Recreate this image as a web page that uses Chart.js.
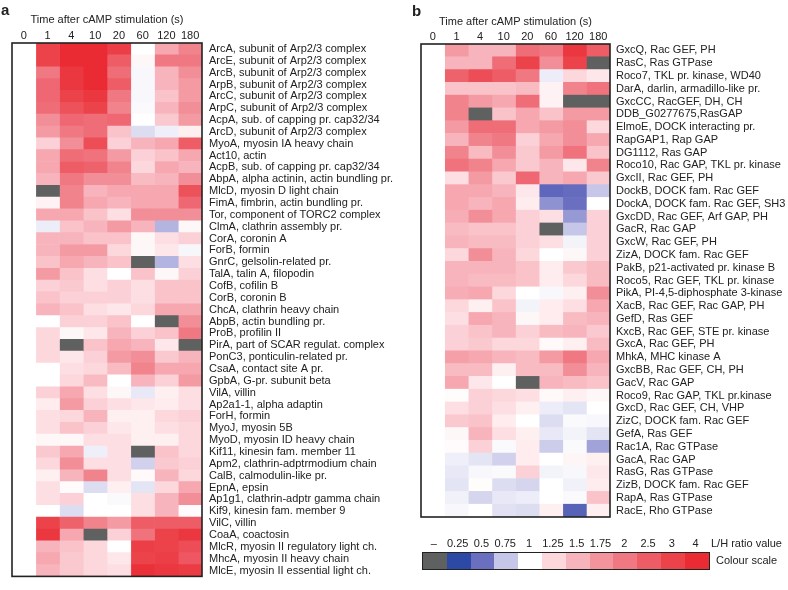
<!DOCTYPE html>
<html>
<head>
<meta charset="utf-8">
<script src="https://cdn.jsdelivr.net/npm/chart.js@4.4.0/dist/chart.umd.min.js"></script>
<style>
  body { margin: 0; background: #fff; font-family: Arial, "Liberation Sans", sans-serif; color: #222; }
  #wrap { position: relative; width: 788px; height: 590px; overflow: hidden; }
  .tag { position: absolute; font-weight: bold; font-size: 15px; line-height: 15px; }
  #legLabels, #legBar { position: absolute; left: 422px; display: flex; }
  #legLabels { top: 537px; font-size: 11px; line-height: 13px; }
  #legLabels span { display: block; width: 23.8px; text-align: center; }
  #legBar { top: 552px; height: 16px; border: 1.5px solid #222; }
  #legBar div { width: 23.8px; height: 16px; }
  .legText { position: absolute; font-size: 11px; line-height: 13px; }
</style>
</head>
<body>
<div id="wrap">
  <canvas id="chartA" width="400" height="590" style="position:absolute;left:0;top:0"></canvas>
  <canvas id="chartB" width="388" height="590" style="position:absolute;left:400px;top:0"></canvas>
  <div class="tag" style="left:1px;top:2px">a</div>
  <div class="tag" style="left:412px;top:3px">b</div>
  <div id="legLabels"></div>
  <div id="legBar"></div>
  <div class="legText" style="left:711px;top:537px">L/H ratio value</div>
  <div class="legText" style="left:716px;top:554px">Colour scale</div>
</div>
<script>
// time points (columns)
const timeLabels = ["0", "1", "4", "10", "20", "60", "120", "180"];

// panel a rows
const rowsA = [
  "ArcA, subunit of Arp2/3 complex", "ArcE, subunit of Arp2/3 complex",
  "ArcB, subunit of Arp2/3 complex", "ArpB, subunit of Arp2/3 complex",
  "ArcC, subunit of Arp2/3 complex", "ArpC, subunit of Arp2/3 complex",
  "AcpA, sub. of capping pr. cap32/34", "ArcD, subunit of Arp2/3 complex",
  "MyoA, myosin IA heavy chain", "Act10, actin",
  "AcpB, sub. of capping pr. cap32/34", "AbpA, alpha actinin, actin bundling pr.",
  "MlcD, myosin D light chain", "FimA, fimbrin, actin bundling pr.",
  "Tor, component of TORC2 complex", "ClmA, clathrin assembly pr.",
  "CorA, coronin A", "ForB, formin", "GnrC, gelsolin-related pr.",
  "TalA, talin A, filopodin", "CofB, cofilin B", "CorB, coronin B",
  "ChcA, clathrin heavy chain", "AbpB, actin bundling pr.", "ProB, profilin II",
  "PirA, part of SCAR regulat. complex", "PonC3, ponticulin-related pr.",
  "CsaA, contact site A pr.", "GpbA, G-pr. subunit beta", "VilA, villin",
  "Ap2a1-1, alpha adaptin", "ForH, formin", "MyoJ, myosin 5B",
  "MyoD, myosin ID heavy chain", "Kif11, kinesin fam. member 11",
  "Apm2, clathrin-adptrmodium chain", "CalB, calmodulin-like pr.", "EpnA, epsin",
  "Ap1g1, clathrin-adptr gamma chain", "Kif9, kinesin fam. member 9",
  "VilC, villin", "CoaA, coactosin", "MlcR, myosin II regulatory light ch.",
  "MhcA, myosin II heavy chain", "MlcE, myosin II essential light ch."
];

// L/H ratio per row, one value per time point (null = no value)
const valuesA = [
  [1, 3.0, 4.0, 4.0, 3.2, 1.0, 1.6, 1.9],
  [1, 3.0, 4.0, 4.0, 2.5, 1.05, 2.0, 2.0],
  [1, 2.0, 3.5, 4.0, 2.2, 0.97, 1.5, 1.8],
  [1, 2.3, 3.5, 4.0, 2.5, 0.97, 1.5, 1.7],
  [1, 2.3, 3.0, 3.5, 2.0, 0.97, 1.4, 1.7],
  [1, 2.2, 2.7, 3.0, 1.9, 0.98, 1.5, 1.8],
  [1, 1.8, 2.3, 2.2, 2.3, 1.0, 1.35, 1.7],
  [1, 1.7, 2.0, 2.2, 1.4, 0.85, 0.93, 1.1],
  [1, 1.3, 1.8, 2.8, 1.3, 1.5, 1.6, 2.5],
  [1, 1.6, 2.2, 2.1, 1.7, 1.3, 1.4, 1.6],
  [1, 1.6, 2.5, 2.4, 1.9, 1.25, 1.6, 1.5],
  [1, 1.5, 2.0, 1.8, 1.8, 1.45, 1.5, 1.8],
  [1, null, 1.9, 1.5, 1.6, 1.6, 1.6, 2.7],
  [1, 1.08, 1.9, 1.6, 1.5, 1.6, 1.6, 2.3],
  [1, 1.6, 1.6, 1.4, 1.2, 1.8, 1.8, 1.8],
  [1, 0.92, 1.4, 1.5, 1.7, 1.5, 0.7, 1.05],
  [1, 1.5, 1.5, 1.4, 1.4, 1.05, 1.2, 1.3],
  [1, 1.5, 1.7, 1.7, 1.25, 1.05, 1.15, 0.96],
  [1, 1.4, 1.6, 1.5, 1.4, null, 0.7, 1.2],
  [1, 1.7, 1.4, 1.2, 1.0, 1.4, 1.05, 1.3],
  [1, 1.3, 1.35, 1.2, 1.3, 1.2, 1.4, 1.4],
  [1, 1.4, 1.3, 1.3, 1.3, 1.2, 1.4, 1.4],
  [1, 1.5, 1.4, 1.2, 1.15, 1.25, 1.6, 1.6],
  [1, 1.0, 1.3, 1.3, 1.4, 1.0, null, 1.8],
  [1, 1.25, 1.05, 1.15, 1.5, 1.3, 1.4, 2.0],
  [1, 1.25, null, 1.4, 1.6, 1.5, 1.15, null],
  [1, 1.25, 1.15, 1.3, 1.7, 1.8, 1.35, 1.5],
  [1, 1.0, 1.2, 1.25, 1.45, 1.9, 1.6, 1.6],
  [1, 1.0, 1.25, 1.45, 1.0, 1.5, 1.3, 1.7],
  [1, 1.3, 1.6, 1.2, 1.05, 0.9, 1.1, 1.2],
  [1, 1.12, 1.7, 1.3, 1.2, 1.15, 1.12, 1.2],
  [1, 1.2, 1.25, 1.5, 1.1, 1.1, 1.25, 1.3],
  [1, 1.2, 1.4, 1.3, 1.15, 1.1, 1.2, 1.25],
  [1, 1.05, 1.05, 1.2, 1.2, 1.1, 1.1, 1.25],
  [1, 1.35, 1.6, 0.93, 1.2, null, 1.4, 1.25],
  [1, 1.25, 1.8, 1.2, 1.2, 0.8, 1.35, 1.3],
  [1, 1.1, 1.5, 1.9, 1.2, 1.04, 1.5, 1.25],
  [1, 1.2, 1.03, 0.85, 1.1, 0.88, 1.25, 1.6],
  [1, 1.2, 1.3, 1.0, 0.98, 1.2, 1.5, 1.8],
  [1, 1.0, 0.85, 1.0, 1.0, 1.2, 1.5, 1.03],
  [1, 3.0, 2.4, 1.9, 1.7, 2.5, 2.5, 2.5],
  [1, 3.5, 1.6, null, 1.3, 2.1, 3.0, 3.5],
  [1, 1.5, 1.4, 1.25, 1.0, 3.2, 3.0, 2.8],
  [1, 1.6, 1.35, 1.25, 1.15, 3.0, 3.2, 2.6],
  [1, 1.5, 1.35, 1.25, 1.2, 3.8, 3.5, 3.3]
];

// panel b rows
const rowsB = [
  "GxcQ, Rac GEF, PH", "RasC, Ras GTPase", "Roco7, TKL pr. kinase, WD40",
  "DarA, darlin, armadillo-like pr.", "GxcCC, RacGEF, DH, CH", "DDB_G0277675,RasGAP",
  "ElmoE, DOCK interacting pr.", "RapGAP1, Rap GAP", "DG1112, Ras GAP",
  "Roco10, Rac GAP, TKL pr. kinase", "GxcII, Rac GEF, PH", "DockB, DOCK fam. Rac GEF",
  "DockA, DOCK fam. Rac GEF, SH3", "GxcDD, Rac GEF, Arf GAP, PH", "GacR, Rac GAP",
  "GxcW, Rac GEF, PH", "ZizA, DOCK fam. Rac GEF", "PakB, p21-activated pr. kinase B",
  "Roco5, Rac GEF, TKL pr. kinase", "PikA, PI-4,5-diphosphate 3-kinase",
  "XacB, Rac GEF, Rac GAP, PH", "GefD, Ras GEF", "KxcB, Rac GEF, STE pr. kinase",
  "GxcA, Rac GEF, PH", "MhkA, MHC kinase A", "GxcBB, Rac GEF, CH, PH", "GacV, Rac GAP",
  "Roco9, Rac GAP, TKL pr.kinase", "GxcD, Rac GEF, CH, VHP", "ZizC, DOCK fam. Rac GEF",
  "GefA, Ras GEF", "Rac1A, Rac GTPase", "GacA, Rac GAP", "RasG, Ras GTPase",
  "ZizB, DOCK fam. Rac GEF", "RapA, Ras GTPase", "RacE, Rho GTPase"
];

const valuesB = [
  [1, 1.7, 1.5, 1.5, 2.2, 2.0, 3.5, 2.5],
  [1, 1.5, 1.5, 2.2, 3.0, 1.8, 3.0, null],
  [1, 2.4, 2.8, 2.5, 2.0, 0.92, 1.25, 1.15],
  [1, 1.4, 1.4, 1.4, 1.45, 1.08, 1.9, 2.1],
  [1, 1.9, 1.7, 1.6, 2.2, 1.08, null, null],
  [1, 1.9, null, 1.4, 1.6, 1.4, 1.7, 1.7],
  [1, 1.7, 2.2, 2.2, 1.6, 1.7, 1.8, 1.25],
  [1, 1.5, 1.9, 2.0, 1.3, 1.6, 1.8, 1.6],
  [1, 1.9, 1.45, 1.8, 1.35, 1.7, 2.1, 1.4],
  [1, 2.1, 1.9, 1.6, 1.35, 1.5, 1.15, 1.9],
  [1, 1.2, 1.7, 1.35, 2.3, 1.5, 1.6, 1.35],
  [1, 1.6, 1.6, 1.5, 1.15, 0.45, 0.48, 0.75],
  [1, 1.6, 1.5, 1.6, 1.12, 0.6, 0.5, 1.0],
  [1, 1.55, 1.8, 1.6, 1.3, 1.2, 0.62, 1.3],
  [1, 1.45, 1.4, 1.4, 1.3, null, 0.75, 1.3],
  [1, 1.5, 1.45, 1.45, 1.3, 1.2, 0.95, 1.3],
  [1, 1.25, 1.8, 1.5, 1.25, 1.0, 1.05, 1.3],
  [1, 1.5, 1.5, 1.5, 1.4, 1.12, 1.35, 1.45],
  [1, 1.5, 1.45, 1.45, 1.4, 1.12, 1.25, 1.45],
  [1, 1.55, 1.6, 1.25, 1.0, 0.97, 1.1, 1.8],
  [1, 1.25, 1.1, 1.4, 0.95, 1.12, 1.2, 1.6],
  [1, 1.2, 1.6, 1.5, 1.05, 1.12, 1.45, 1.5],
  [1, 1.3, 1.4, 1.5, 1.3, 1.45, 1.5, 1.35],
  [1, 1.3, 1.35, 1.25, 1.25, 1.04, 1.1, 1.45],
  [1, 1.65, 1.6, 1.5, 1.45, 1.7, 2.0, 1.6],
  [1, 1.45, 1.45, 1.1, 1.45, 1.45, 1.8, 1.5],
  [1, 1.6, 1.15, 1.0, null, 1.5, 1.45, 1.4],
  [1, 1.02, 1.3, 1.25, 1.2, 1.04, 1.1, 1.05],
  [1, 1.2, 1.3, 1.2, 1.1, 0.92, 0.88, 1.0],
  [1, 1.35, 1.4, 1.12, 1.0, 0.85, 0.98, 0.97],
  [1, 1.05, 1.5, 1.2, 1.1, 0.9, 0.95, 0.88],
  [1, 1.03, 1.3, 0.98, 1.12, 0.78, 0.98, 0.65],
  [1, 0.93, 0.88, 0.8, 1.12, 1.0, 1.06, 1.1],
  [1, 0.9, 0.97, 0.98, 1.3, 0.95, 0.97, 1.15],
  [1, 0.88, 1.02, 0.85, 0.82, 1.0, 0.94, 1.12],
  [1, 0.94, 0.82, 0.9, 0.92, 1.0, 0.98, 1.4],
  [1, 0.97, 1.0, 0.87, 0.85, 1.1, 0.42, 1.1]
];

// colour scale
const scaleLabels = ["\u2013", "0.25", "0.5", "0.75", "1", "1.25", "1.5", "1.75", "2", "2.5", "3", "4"];
const scaleValues = [0.25, 0.5, 0.75, 1, 1.25, 1.5, 1.75, 2, 2.5, 3, 4];
const scaleColors = ["#2c49a5", "#6a6fc0", "#c5c6e8", "#ffffff", "#fcd7dc", "#f8b4bc",
  "#f3939c", "#f07883", "#ee5c66", "#ec434b", "#ea2b33"];
const missingColor = "#5f6060";

function hexRgb(h) {
  return [parseInt(h.slice(1, 3), 16), parseInt(h.slice(3, 5), 16), parseInt(h.slice(5, 7), 16)];
}

function colourFor(v) {
  if (v === null) return missingColor;
  if (v <= scaleValues[0]) return scaleColors[0];
  for (let i = 1; i < scaleValues.length; i++) {
    if (v <= scaleValues[i]) {
      const t = (v - scaleValues[i - 1]) / (scaleValues[i] - scaleValues[i - 1]);
      const a = hexRgb(scaleColors[i - 1]);
      const b = hexRgb(scaleColors[i]);
      const c = a.map((x, k) => Math.round(x + (b[k] - x) * t));
      return "rgb(" + c.join(",") + ")";
    }
  }
  return scaleColors[scaleColors.length - 1];
}

// black frame round the heat map
const framePlugin = {
  id: "frame",
  afterDatasetsDraw(chart) {
    const ca = chart.chartArea;
    const ctx = chart.ctx;
    ctx.save();
    ctx.strokeStyle = "#222";
    ctx.lineWidth = 1.6;
    ctx.strokeRect(ca.left, ca.top, ca.right - ca.left, ca.bottom - ca.top);
    ctx.restore();
  },
};

const font11 = { family: "Arial, 'Liberation Sans', sans-serif", size: 11 };

function heatmap(canvasId, rows, values, box) {
  // one stacked dataset per time point, each cell one unit wide
  const datasets = timeLabels.map((t, c) => ({
    label: t,
    data: rows.map(() => 1),
    backgroundColor: values.map((r) => colourFor(r[c])),
    borderWidth: 0,
    barPercentage: 1,
    categoryPercentage: 1,
  }));

  return new Chart(document.getElementById(canvasId), {
    type: "bar",
    data: { labels: rows, datasets: datasets },
    options: {
      indexAxis: "y",
      responsive: false,
      animation: false,
      devicePixelRatio: 1,
      layout: { padding: { left: box.left, right: 0, top: 0, bottom: box.bottom } },
      scales: {
        x: { type: "linear", stacked: true, min: 0, max: timeLabels.length, display: false },
        x2: {
          type: "category",
          position: "top",
          labels: timeLabels,
          offset: true,
          grid: { display: false, drawTicks: false },
          border: { display: false },
          ticks: { font: font11, color: "#222", padding: 0, maxRotation: 0, autoSkip: false },
          title: {
            display: true,
            text: "Time after cAMP stimulation (s)",
            font: font11,
            color: "#222",
            padding: { top: box.titleTop, bottom: 0 },
          },
          afterFit: (s) => { s.height = box.top; },
        },
        y: {
          stacked: true,
          position: "right",
          offset: true,
          grid: { display: false, drawTicks: false },
          border: { display: false },
          ticks: { font: font11, color: "#222", padding: box.labelPad, autoSkip: false },
          afterFit: (s) => { s.width = box.axisWidth; },
        },
      },
      plugins: { legend: { display: false }, tooltip: { enabled: false } },
    },
    plugins: [framePlugin],
  });
}

heatmap("chartA", rowsA, valuesA, { left: 12, bottom: 2, top: 43, titleTop: 13.4, axisWidth: 198, labelPad: 7 });
heatmap("chartB", rowsB, valuesB, { left: 21, bottom: 73, top: 44, titleTop: 15.4, axisWidth: 178, labelPad: 6 });

// colour scale key
const legLabels = document.getElementById("legLabels");
const legBar = document.getElementById("legBar");
scaleLabels.forEach((t, i) => {
  const s = document.createElement("span");
  s.textContent = t;
  legLabels.appendChild(s);
  const d = document.createElement("div");
  d.style.background = i === 0 ? missingColor : scaleColors[i - 1];
  legBar.appendChild(d);
});
</script>
</body>
</html>
